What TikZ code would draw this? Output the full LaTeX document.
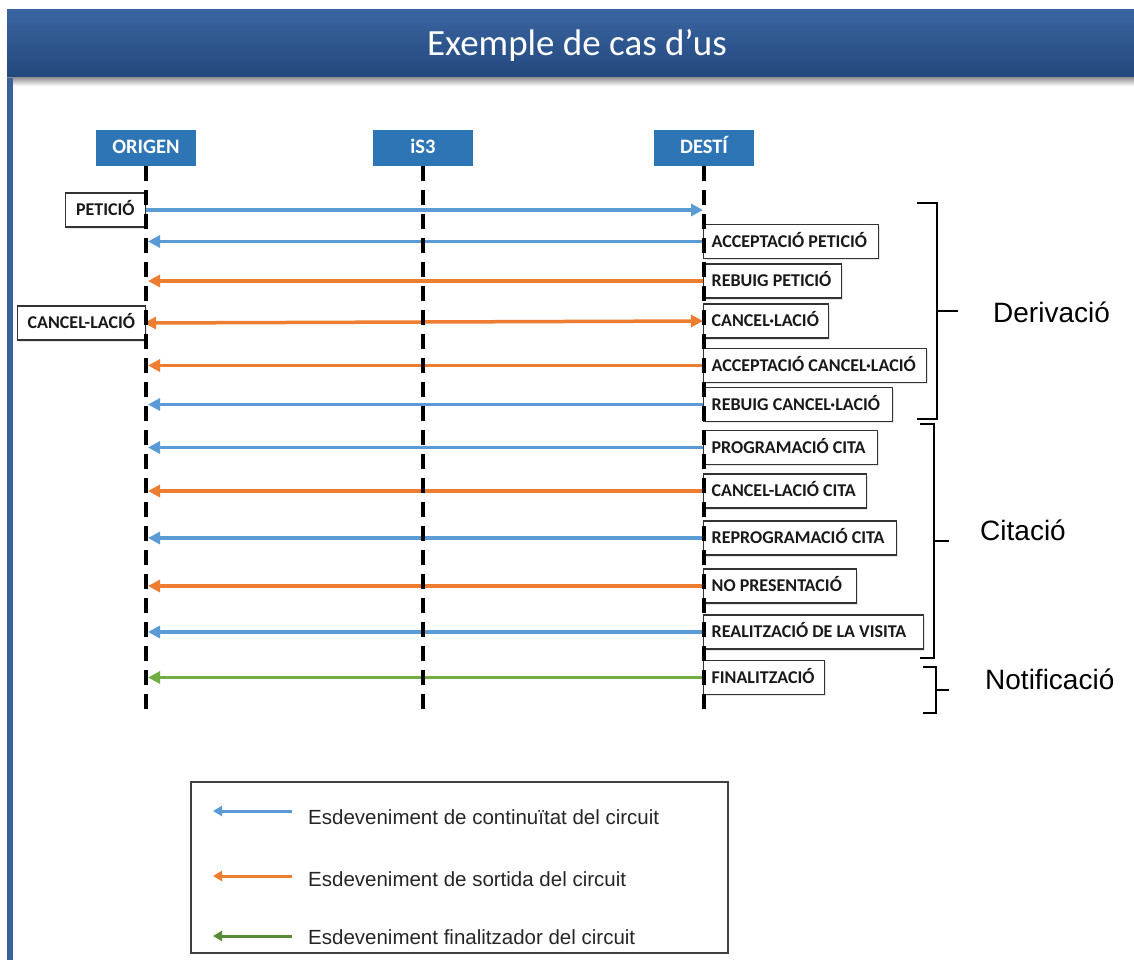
\documentclass[tikz,border=0pt]{standalone}
\usepackage{fontspec}
\setmainfont{Carlito}
\newfontfamily\arialf{Liberation Sans}
\usetikzlibrary{arrows.meta,shadows}
\definecolor{evblue}{HTML}{5B9BD5}
\definecolor{evorange}{HTML}{ED7D31}
\definecolor{evgreen}{HTML}{70AD47}
\definecolor{actorfill}{HTML}{2E75B6}
\definecolor{hdrtop}{HTML}{3A65A1}
\definecolor{hdrbot}{HTML}{22477C}
\definecolor{sideline}{HTML}{3C6197}
\newcommand\lbx[2]{\makebox[#1pt][l]{#2}}
\begin{document}
\begin{tikzpicture}[x=1pt,y=-1pt,
 actor/.style={fill=actorfill, text=white, font=\fontsize{20.5}{24}\selectfont\bfseries, minimum width=100, minimum height=36, inner sep=0, text height=13pt, text depth=1pt},
 lab/.style={draw=black!80, line width=1.3pt, fill=white, minimum height=34, inner xsep=8, inner ysep=0, font=\fontsize{18}{22}\selectfont\bfseries, text=black!90, text height=12pt, text depth=1pt, drop shadow={shadow xshift=1.5pt, shadow yshift=-1.5pt, fill=black!20}},
 rlab/.style={lab, anchor=west},
 llab/.style={lab, anchor=east},
 tipbig/.tip={Triangle[length=12pt,width=12pt]},
 ev/.style={line width=3.5pt, -tipbig},
 legev/.style={line width=3pt, -{Triangle[length=9pt,width=10pt]}},
 lifeline/.style={line width=3.4pt, dash pattern=on 15pt off 9pt},
 brk/.style={line width=1.7pt, black},
 grp/.style={font=\arialf\fontsize{28}{32}\selectfont, anchor=west, inner sep=0},
 legtxt/.style={font=\arialf\fontsize{20.5}{24}\selectfont, anchor=west, text=black!85, inner sep=0},
 ]
\useasboundingbox (0,0) rectangle (1134,960);
\fill[white] (0,0) rectangle (1134,960);
% header
\shade[top color=hdrtop, bottom color=hdrbot] (7,10) rectangle (1134,78);
\shade[top color=black!40, bottom color=white] (7,78) rectangle (1134,86);
\fill[sideline] (7,78) rectangle (13,960);
\node[text=white, font=\fontsize{37}{42}\selectfont] (title) at (577,45) {Exemple de cas d’us};
% actors
\node[actor] (orig) at (146,148) {ORIGEN};
\node[actor] (is3) at (423,148) {iS3};
\node[actor] (dest) at (704,148) {DESTÍ};
\coordinate (oend) at (146,713);
\coordinate (send) at (423,713);
\coordinate (dend) at (704,713);
% left labels
\node[llab, minimum width=80] (pet) at (146,210) {PETICIÓ};
\node[llab, minimum width=128] (canl) at (146,323) {CANCEL-LACIÓ};
% right labels
\node[rlab] (accp) at (703,241.5) {\lbx{159}{ACCEPTACIÓ PETICIÓ}};
\node[rlab] (rebp) at (703,281) {\lbx{122}{REBUIG PETICIÓ}};
\node[rlab] (canr) at (703,321) {\lbx{109}{CANCEL·LACIÓ}};
\node[rlab] (accc) at (703,365.5) {\lbx{207}{ACCEPTACIÓ CANCEL·LACIÓ}};
\node[rlab] (rebc) at (703,404.5) {\lbx{173}{REBUIG CANCEL·LACIÓ}};
\node[rlab] (prog) at (703,447.5) {\lbx{158}{PROGRAMACIÓ CITA}};
\node[rlab] (canc) at (703,491) {\lbx{147}{CANCEL-LACIÓ CITA}};
\node[rlab] (repr) at (703,538) {\lbx{177}{REPROGRAMACIÓ CITA}};
\node[rlab] (nopr) at (703,586) {\lbx{137}{NO PRESENTACIÓ}};
\node[rlab] (real) at (703,632) {\lbx{204}{REALITZACIÓ DE LA VISITA}};
\node[rlab] (fina) at (703,677.5) {\lbx{105}{FINALITZACIÓ}};
% end points on ORIGEN / DESTÍ
\coordinate (d1) at (703,210);
\coordinate (o2) at (148,241.5);
\coordinate (o3) at (148,281);
\coordinate (o5) at (148,365.5);
\coordinate (o6) at (148,404.5);
\coordinate (o7) at (148,447.5);
\coordinate (o8) at (148,491);
\coordinate (o9) at (148,538);
\coordinate (o10) at (148,586);
\coordinate (o11) at (148,632);
\coordinate (o12) at (148,677.5);
% arrows
\draw[ev, evblue] (pet.east) -- (d1);
\draw[ev, evblue] (accp.west) -- (o2);
\draw[ev, evorange] (rebp.west) -- (o3);
\draw[line width=3.5pt, evorange, tipbig-tipbig, shorten <=-2pt] (canl.east) -- (canr.west);
\draw[ev, evorange] (accc.west) -- (o5);
\draw[ev, evblue] (rebc.west) -- (o6);
\draw[ev, evblue] (prog.west) -- (o7);
\draw[ev, evorange] (canc.west) -- (o8);
\draw[ev, evblue] (repr.west) -- (o9);
\draw[ev, evorange] (nopr.west) -- (o10);
\draw[ev, evblue] (real.west) -- (o11);
\draw[ev, evgreen] (fina.west) -- (o12);
% lifelines
\draw[lifeline] (orig.south) -- (oend);
\draw[lifeline] (is3.south) -- (send);
\draw[lifeline] (dest.south) -- (dend);
% brackets
\draw[brk] (917,203) -- (937,203) -- (937,419) -- (917,419);
\draw[brk] (937,311) -- (958,311);
\node[grp] (gder) at (993,312) {Derivació};
\draw[brk] (920,424) -- (934,424) -- (934,658) -- (920,658);
\draw[brk] (934,541) -- (949,541);
\node[grp] (gcit) at (980,530) {Citació};
\draw[brk] (923,667) -- (936,667) -- (936,713) -- (923,713);
\draw[brk] (936,690) -- (949,690);
\node[grp] (gnot) at (985,679) {Notificació};
% legend
\node[draw=black!75, line width=1.5pt, fill=white, minimum width=537, minimum height=171, anchor=north west, inner sep=0, drop shadow={shadow xshift=1.5pt, shadow yshift=-1.5pt, fill=black!25}] (leg) at (190,781) {};
\node[legtxt] (t1) at (308,817) {Esdeveniment de continuïtat del circuit};
\node[legtxt] (t2) at (308,879) {Esdeveniment de sortida del circuit};
\node[legtxt] (t3) at (308,937) {Esdeveniment finalitzador del circuit};
\coordinate (l1s) at (292,811); \coordinate (l1e) at (213,811);
\coordinate (l2s) at (292,876); \coordinate (l2e) at (213,876);
\coordinate (l3s) at (292,936); \coordinate (l3e) at (213,936);
\draw[legev, evblue] (l1s) -- (l1e);
\draw[legev, evorange] (l2s) -- (l2e);
\draw[legev, evgreen!80!black] (l3s) -- (l3e);
\end{tikzpicture}
\end{document}
